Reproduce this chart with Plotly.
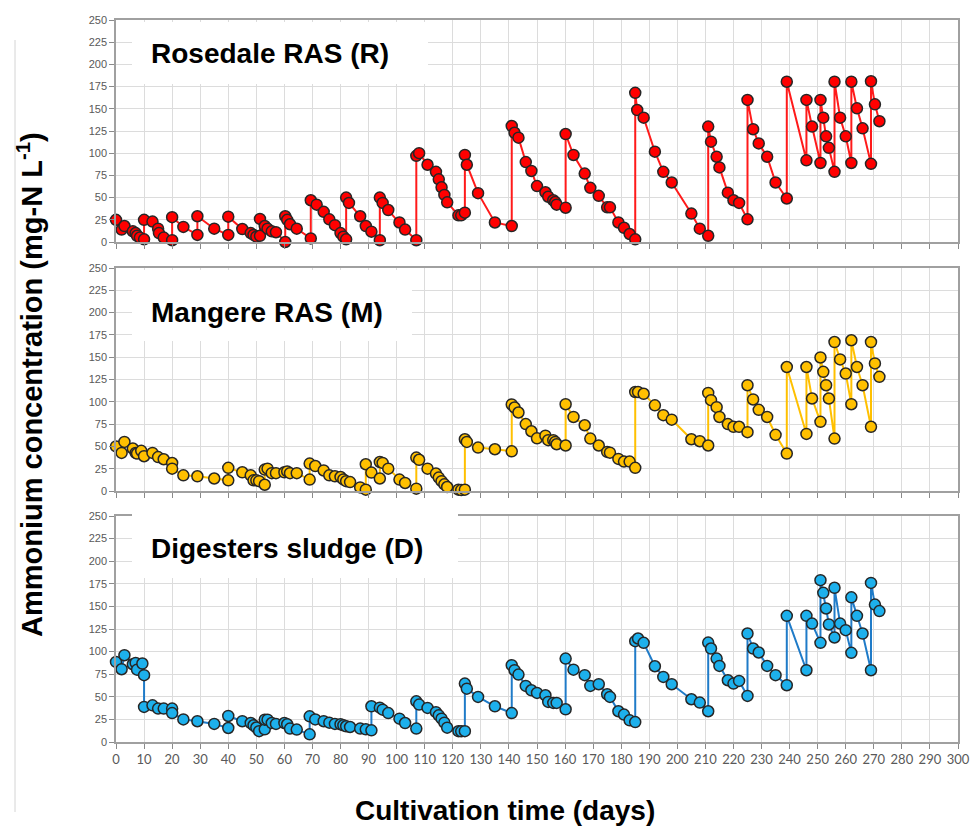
import plotly.graph_objects as go

# ---------------- data ----------------
R_day = [0, 2, 3, 6, 7, 7.5, 8.5, 10, 10, 13, 15, 15.3, 17, 20, 20, 24, 29, 29, 35, 40,
         40, 45, 48, 49, 50, 51.3, 51.3, 53, 54, 55.5, 57, 60.3, 60.3, 61, 62, 64.4, 69.4, 69.4, 71.5, 74,
         76, 78, 80, 81, 82, 82, 83, 87, 89, 91, 94, 94, 95, 97, 101, 103, 107, 107, 108, 111,
         114, 115, 116, 117, 118, 122, 123, 124.3, 124.3, 125, 129, 135, 141, 141, 142, 143.4, 146, 148, 150, 153,
         154, 155.8, 156.5, 157, 160.2, 160.2, 163, 167, 169, 172, 175, 176, 179, 181, 183, 185, 185, 185.7, 188, 192,
         195, 198, 205, 208, 211, 211, 212, 214, 215, 218, 220, 222, 225, 225, 227, 229, 232, 235, 239, 239,
         246, 246, 248, 251, 251, 252, 253, 254, 256, 256, 258, 260, 262, 262, 264, 266, 269, 269, 270.4, 272]
R_val = [25, 14, 18, 12, 10, 7, 5, 3, 25, 23, 15, 10, 5, 2, 28, 17, 8, 29, 15, 8,
         28.5, 14.6, 10, 8, 6, 7, 26, 18, 15, 12, 11, 0, 29, 25, 20, 15, 4, 47, 42, 34,
         25.5, 19, 10, 6, 3, 50, 44, 29, 18, 11.6, 2, 50, 44, 36, 22, 14, 2, 97, 100, 87,
         79, 70.6, 61.6, 53, 44.7, 30, 30, 33, 98, 87, 55, 22, 18, 130.6, 123, 117.5, 90, 80, 63, 56,
         51, 47, 45, 42, 38.6, 121.6, 98, 77, 61, 52, 39, 39, 22, 16, 9, 3, 168, 148.6, 140, 101.7,
         79, 67, 32, 15, 7, 130, 113, 96, 84, 55.6, 47, 44, 25.5, 160, 127, 111, 96, 67, 49, 180.5,
         92, 160, 130, 89, 160, 140, 119, 106, 79, 180.5, 140, 119, 89, 180.5, 150.5, 128, 88, 181, 155, 136]

M_day = [0, 2, 3, 6, 7, 7.5, 9, 10, 13, 15, 17, 20, 20, 24, 29, 35, 40, 40, 45, 48,
         49, 50, 51, 53, 53, 54, 55.5, 57, 60, 61, 62, 64.4, 69, 69, 71, 74, 76, 78, 80, 81,
         82, 83.4, 87, 89, 89, 91, 94, 94, 95, 97, 101, 103, 107, 107, 108, 111, 114, 115, 116, 117,
         118, 122, 123, 124.3, 124.3, 125, 129, 135, 141, 141, 142, 143.4, 146, 148, 150, 153, 154, 155.8, 156.5, 157,
         160.2, 160.2, 163, 167, 169, 172, 175, 176, 179, 181, 183, 185, 185, 186, 188, 192, 195, 198, 205, 208,
         211, 211, 212, 214, 215, 218, 220, 222, 225, 225, 227, 229, 232, 235, 239, 239, 246, 246, 248, 251,
         251, 252, 253, 254, 256, 256, 258, 260, 262, 262, 264, 266, 269, 269, 270.4, 272]
M_val = [50, 42.7, 55, 47.6, 42.7, 42, 45, 39, 42.7, 38, 35.6, 31.4, 25, 17.6, 16.5, 14, 12, 26, 21, 17.6,
         12, 12, 11, 7, 24, 25, 20, 20, 21, 22, 20, 20, 12.8, 30.7, 28, 23, 17.6, 16.5, 15.7, 13,
         11, 10, 4, 1.5, 30, 20.6, 14, 32.5, 31.5, 25, 12.8, 9, 2.6, 37.5, 35, 25, 19.5, 15, 11, 7.5,
         4.5, 1.5, 1, 1.5, 58, 55, 48.7, 46.8, 44.5, 97, 93.6, 88, 75, 67, 59, 62, 57, 57, 55, 52.4,
         51, 97.3, 83, 73.7, 58.8, 51, 43.8, 43, 36, 33, 33, 26, 111, 111, 109, 96, 85, 80, 58, 55.8,
         51, 110, 101.8, 94, 83, 75, 72, 72, 66, 118.6, 102.6, 91, 83, 63, 42, 139, 64, 139, 103.7, 77.5,
         149.7, 133.6, 118.6, 103.7, 58.8, 167, 147.5, 131.7, 97.3, 169, 139, 118.6, 72, 167, 143, 128]

D_day = [0, 2, 3, 6, 7, 7.5, 9.4, 10, 10, 13, 15, 17, 20, 20, 24, 29, 35, 40, 40, 45,
         48, 49, 50, 51, 53, 53, 54, 55.5, 57, 60, 61, 62, 64.4, 69, 69, 71, 74, 76, 78, 80,
         81, 82, 83.4, 87, 89, 91, 91, 94, 95, 97, 101, 103, 107, 107, 108, 111, 114, 115, 116, 117,
         118, 122, 123, 124.3, 124.3, 125, 129, 135, 141, 141, 142, 143.4, 146, 148, 150, 153, 154, 155.8, 157, 160.2,
         160.2, 163, 167, 169, 172, 175, 176, 179, 181, 183, 185, 185, 186, 188, 192, 195, 198, 205, 208, 211,
         211, 212, 214, 215, 218, 220, 222, 225, 225, 227, 229, 232, 235, 239, 239, 246, 246, 248, 251, 251,
         252, 253, 254, 256, 256, 258, 260, 262, 262, 264, 266, 269, 269, 270.4, 272]
D_val = [88.6, 80.5, 96, 86, 87.5, 80, 86.8, 73.9, 38.8, 40.6, 37, 37, 37, 32, 25, 23, 20, 15.5, 28.8, 23,
         21, 18.5, 16, 12, 14, 24.7, 24.7, 21, 20, 21, 19.6, 14.8, 13.7, 8.5, 28.4, 25, 23, 21.4, 20, 19.6,
         18.5, 17.4, 16.6, 14.8, 14, 12.9, 39.5, 38, 35.8, 32, 25.8, 21, 14.8, 45, 41.4, 37.7, 33, 29.5, 25.8, 21.4,
         15.9, 12, 11.8, 12, 64.6, 59, 49.9, 39.5, 32, 85, 79.4, 74.6, 62, 57.2, 54.3, 51.7, 44.3, 43.2, 43.2, 36.2,
         92.3, 80, 73.9, 62, 63.9, 52.8, 49.9, 34, 30.3, 24, 22, 111.5, 114.5, 109.7, 83.8, 72, 63.9, 47.3, 43.6, 34,
         110, 103.4, 92.3, 84.2, 68.3, 64.6, 67.6, 51, 120, 103.4, 99, 84.2, 73.9, 62.8, 139.6, 79.4, 139.6, 131, 109.7, 179,
         165, 147.7, 130, 115.6, 170.6, 131, 123.7, 98.6, 160, 139.6, 120, 79.4, 176, 152, 144.8]

panel_titles = ["Rosedale RAS (R)", "Mangere RAS (M)", "Digesters sludge (D)"]
x_title = "Cultivation time (days)"
y_title = "Ammonium concentration (mg-N L<sup>-1</sup>)"

series = [
    (R_day, R_val, "#FF0000", "#FF1A1A"),
    (M_day, M_val, "#FFC000", "#FFC000"),
    (D_day, D_val, "#1DB0EC", "#1F7BC8"),
]

# ---------------- layout helpers ----------------
W, H = 973, 828
def fx(px):
    return px / W
def fy(py):
    return 1 - py / H

panel_px = [(20, 242), (268, 491), (516, 742)]
x_dom = [fx(116), fx(958)]

fig = go.Figure()
for i, (dx, dv, mcol, lcol) in enumerate(series):
    n = "" if i == 0 else str(i + 1)
    fig.add_trace(go.Scatter(
        x=dx, y=dv, mode="lines+markers",
        xaxis="x" + n, yaxis="y" + n,
        line=dict(color=lcol, width=2),
        marker=dict(size=11, color=mcol, line=dict(color="#262626", width=1.5)),
        cliponaxis=False, showlegend=False,
    ))

layout = dict(
    width=W, height=H, autosize=False,
    margin=dict(l=0, r=0, t=0, b=0, pad=0, autoexpand=False),
    paper_bgcolor="white", plot_bgcolor="white",
    showlegend=False,
)
for i, (top, bot) in enumerate(panel_px):
    n = "" if i == 0 else str(i + 1)
    layout["xaxis" + n] = dict(
        domain=x_dom, range=[0, 300], dtick=10, tick0=0, automargin=False,
        showgrid=True, gridcolor="#dcdcdc", gridwidth=1,
        zeroline=False, showline=True, linecolor="#a0a0a0", linewidth=1.5, mirror=True,
        ticks="outside", ticklen=5, tickcolor="#8a8a8a",
        showticklabels=(i == 2),
        tickfont=dict(family="Lato, Open Sans, sans-serif", size=13, color="#595959"),
        anchor="y" + n,
    )
    layout["yaxis" + n] = dict(
        domain=[fy(bot), fy(top)], range=[0, 250], dtick=25, tick0=0, automargin=False,
        showgrid=True, gridcolor="#dcdcdc", gridwidth=1,
        zeroline=False, showline=True, linecolor="#a0a0a0", linewidth=1.5, mirror=True,
        ticks="outside", ticklen=5, tickcolor="#8a8a8a",
        tickfont=dict(family="Liberation Sans, Arial, sans-serif", size=11, color="#595959"),
        anchor="x" + n,
    )
fig.update_layout(**layout)

# white boxes behind panel titles
boxes = [(132, 22, 428, 84), (132, 270, 412, 341), (132, 510, 458, 578)]
shapes = []
for (x0, y0, x1, y1) in boxes:
    shapes.append(dict(type="rect", xref="paper", yref="paper",
                       x0=fx(x0), x1=fx(x1), y0=fy(y1), y1=fy(y0),
                       fillcolor="white", line=dict(width=0), layer="above"))
shapes.append(dict(type="line", xref="paper", yref="paper",
                   x0=fx(15), x1=fx(15), y0=fy(812), y1=fy(40),
                   line=dict(color="#d4d4d4", width=1)))
fig.update_layout(shapes=shapes)

title_y = [53, 312, 548]
ann = []
for t, ty in zip(panel_titles, title_y):
    ann.append(dict(text="<b>" + t + "</b>", xref="paper", yref="paper",
                    x=fx(149), y=fy(ty), xanchor="left", yanchor="middle",
                    showarrow=False,
                    font=dict(family="Liberation Sans, Arial, sans-serif", size=28, color="black")))
ann.append(dict(text="<b>" + x_title + "</b>", xref="paper", yref="paper",
                x=fx(505), y=fy(810), xanchor="center", yanchor="middle", showarrow=False,
                font=dict(family="Liberation Sans, Arial, sans-serif", size=28, color="black")))
ann.append(dict(text="<b>" + y_title + "</b>", xref="paper", yref="paper",
                x=fx(30), y=fy(385), xanchor="center", yanchor="middle", showarrow=False,
                textangle=-90,
                font=dict(family="Liberation Sans, Arial, sans-serif", size=29, color="black")))
fig.update_layout(annotations=ann)

fig.write_html("out.html", config={"responsive": False})
